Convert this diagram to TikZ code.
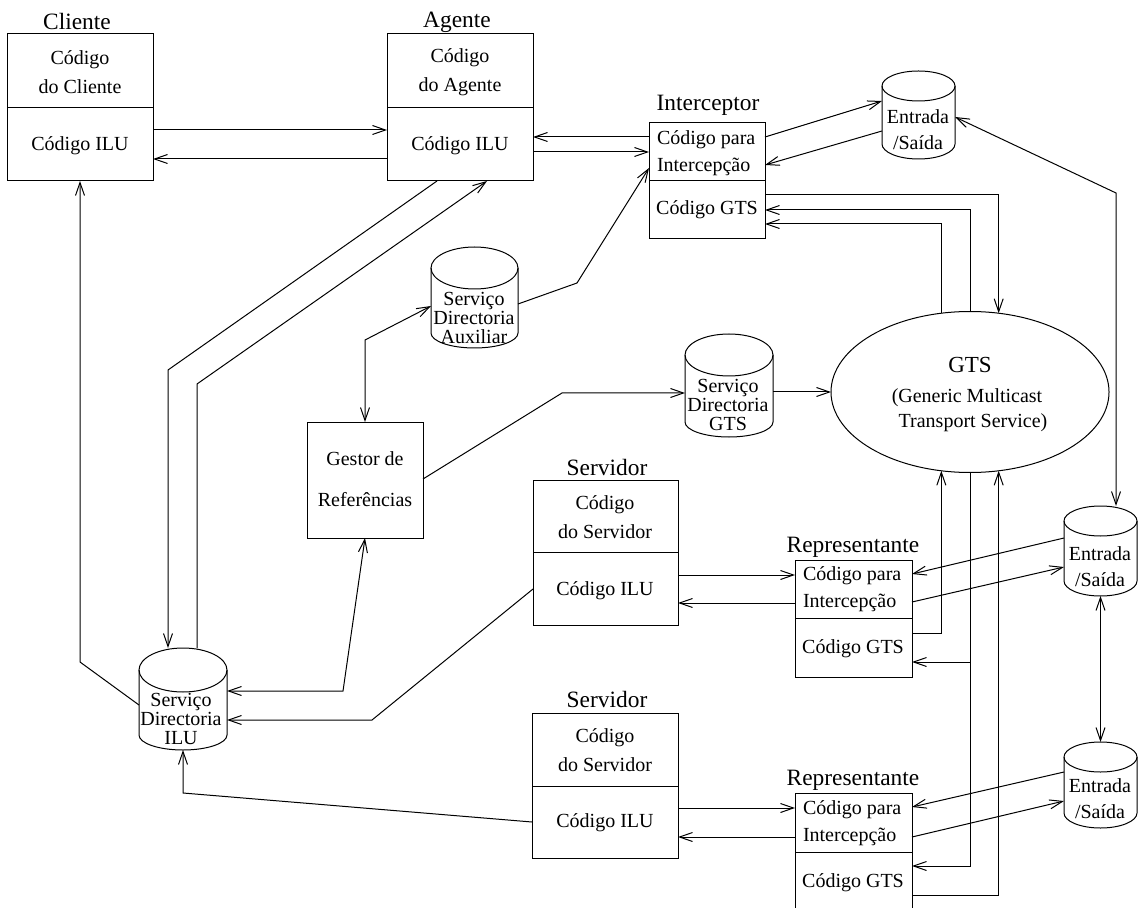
\documentclass[tikz,border=0pt]{standalone}
\usepackage{fontspec}
\setmainfont{Liberation Serif}
\usetikzlibrary{arrows.meta,fit,shapes.geometric}

% database cylinder: name, left x, right x, top y, top radius, bottom y
\newcommand{\dbcyl}[6]{%
  \node[fit={(#2,#4)(#3,#6)}, inner sep=0pt] (#1) {};
  \draw ({(#2+#3)/2},{#4+#5}) ellipse [x radius={(#3-#2)/2}, y radius=#5];
  \draw (#2,{#4+#5}) -- (#2,{#6-15})
        arc [start angle=180, end angle=0, x radius={(#3-#2)/2}, y radius=15]
        -- (#3,{#4+#5});
}

\begin{document}
\begin{tikzpicture}[x=0.5pt, y=-0.5pt, line width=0.5pt,
  every node/.style={inner sep=0pt, outer sep=0pt},
  boxfr/.style={draw, inner sep=0pt},
  bodytxt/.style={font=\fontsize{10}{14.5}\selectfont, align=center},
  sidetxt/.style={font=\fontsize{10}{13.5}\selectfont, align=left, anchor=west},
  cyltxt/.style={font=\fontsize{10}{9.5}\selectfont, align=center},
  headtxt/.style={font=\fontsize{11.7}{14}\selectfont},
  arr/.style={-{Straight Barb[length=6.5pt,width=4.5pt]}},
  arrtwo/.style={{Straight Barb[length=6.5pt,width=4.5pt]}-{Straight Barb[length=6.5pt,width=4.5pt]}},
]
\useasboundingbox (0,0) rectangle (1138,908);
\clip (0,0) rectangle (1138,908);

% ---------- class boxes ----------
\node[boxfr, fit={(7,34)(153,181)}] (cli) {};
\draw (cli.west |- 0,108) -- (cli.east |- 0,108);
\node[headtxt] (cliT) at (77,22) {Cliente};
\node[bodytxt] (cliA) at (80,72.5) {Código\\do Cliente};
\node[bodytxt] (cliB) at (80,146) {Código ILU};

\node[boxfr, fit={(387,34)(533,181)}] (age) {};
\draw (age.west |- 0,108) -- (age.east |- 0,108);
\node[headtxt] (ageT) at (457,22) {Agente};
\node[bodytxt] (ageA) at (460,72.5) {Código\\do Agente};
\node[bodytxt] (ageB) at (460,146) {Código ILU};

\node[boxfr, fit={(649,123)(765,239)}] (int) {};
\draw (int.west |- 0,181) -- (int.east |- 0,181);
\node[headtxt] (intT) at (708,105) {Interceptor};
\node[sidetxt] (intA) at (657,153.5) {Código para\\Intercepção};
\node[bodytxt] (intB) at (707,210) {Código GTS};

\node[boxfr, fit={(307,422)(423,538)}] (ges) {};
\node[font=\fontsize{10}{20.5}\selectfont, align=center] (gesA) at (365,479.5) {Gestor de\\Referências};

\node[boxfr, fit={(533,480)(678,625)}] (srv1) {};
\draw (srv1.west |- 0,552) -- (srv1.east |- 0,552);
\node[headtxt] (srv1T) at (607,467) {Servidor};
\node[bodytxt] (srv1A) at (605,517.5) {Código\\do Servidor};
\node[bodytxt] (srv1B) at (605,591) {Código ILU};

\node[boxfr, fit={(532,713)(678,858)}] (srv2) {};
\draw (srv2.west |- 0,786) -- (srv2.east |- 0,786);
\node[headtxt] (srv2T) at (607,699) {Servidor};
\node[bodytxt] (srv2A) at (605,750.5) {Código\\do Servidor};
\node[bodytxt] (srv2B) at (605,823) {Código ILU};

\node[boxfr, fit={(795,560)(912,677)}] (rep1) {};
\draw (rep1.west |- 0,618) -- (rep1.east |- 0,618);
\node[headtxt] (rep1T) at (853,547) {Representante};
\node[sidetxt] (rep1A) at (803,589) {Código para\\Intercepção};
\node[bodytxt] (rep1B) at (853,649) {Código GTS};

\node[boxfr, fit={(795,793)(912,930)}] (rep2) {};
\draw (rep2.west |- 0,852) -- (rep2.east |- 0,852);
\node[headtxt] (rep2T) at (853,780) {Representante};
\node[sidetxt] (rep2A) at (803,823) {Código para\\Intercepção};
\node[bodytxt] (rep2B) at (853,883) {Código GTS};

% ---------- transport service ----------
\node[draw, ellipse, minimum width=139pt, minimum height=80.5pt, inner sep=0pt] (gts) at (970,392) {};
\node[font=\fontsize{11.5}{14}\selectfont] (gtsT) at (970,365) {GTS};
\node[font=\fontsize{10}{12}\selectfont] (gtsA) at (967,398) {(Generic Multicast};
\node[font=\fontsize{10}{12}\selectfont] (gtsB) at (973,423) {Transport Service)};

% ---------- directories and I/O stores ----------
\dbcyl{ilu}{139}{227}{648}{22}{750}
\node[cyltxt] (iluT) at (181,719) {Serviço\\Directoria\\ILU};
\dbcyl{aux}{431}{518}{247}{21}{348}
\node[cyltxt] (auxT) at (474,318) {Serviço\\Directoria\\Auxiliar};
\dbcyl{gdir}{685}{773}{334}{21}{437}
\node[cyltxt] (gdirT) at (728,405) {Serviço\\Directoria\\GTS};
\dbcyl{e1}{882}{955}{71}{15}{159}
\node[cyltxt, font=\fontsize{10}{13}\selectfont] (e1T) at (918,130) {Entrada\\/Saída};
\dbcyl{e2}{1064}{1137}{506}{15}{596}
\node[cyltxt, font=\fontsize{10}{13}\selectfont] (e2T) at (1100,567) {Entrada\\/Saída};
\dbcyl{e3}{1064}{1137}{742}{15}{828}
\node[cyltxt, font=\fontsize{10}{13}\selectfont] (e3T) at (1100,799) {Entrada\\/Saída};

% ---------- ILU calls ----------
\draw[arr] (cli.east |- 0,130) -- (age.west |- 0,130);
\draw[arr] (age.west |- 0,159) -- (cli.east |- 0,159);
\draw[arr] (int.west |- 0,137) -- (age.east |- 0,137);
\draw[arr] (age.east |- 0,152) -- (int.west |- 0,152);
\draw[arr] (srv1.east |- 0,575) -- (rep1.west |- 0,575);
\draw[arr] (rep1.west |- 0,603) -- (srv1.east |- 0,603);
\draw[arr] (srv2.east |- 0,808) -- (rep2.west |- 0,808);
\draw[arr] (rep2.west |- 0,837) -- (srv2.east |- 0,837);

% ---------- interceptors and I/O ----------
\draw[arr] (int.east |- 0,137) -- (e1.west |- 0,101);
\draw[arr] (e1.west |- 0,131) -- (int.east |- 0,165);
\draw[arr] (e2.west |- 0,538) -- (rep1.east |- 0,574);
\draw[arr] (rep1.east |- 0,602) -- (e2.west |- 0,567);
\draw[arr] (e3.west |- 0,772) -- (rep2.east |- 0,807);
\draw[arr] (rep2.east |- 0,837) -- (e3.west |- 0,801);
\draw[arrtwo] (e1.east |- 0,117) -- (1116,193) -- (e2.north -| 1116,0);
\draw[arrtwo] (e2.south) -- (e3.north);

% ---------- GTS links ----------
\draw[arr] (int.east |- 0,195) -| (gts.70);
\draw[arr] (gts.north) |- (int.east |- 0,210);
\draw[arr] (gts.110) |- (int.east |- 0,224);
\draw[arr] (rep1.east |- 0,633) -| (gts.250);
\draw[arr] (gts.south) |- (rep1.east |- 0,662);
\draw[arr] (gts.south) |- (rep2.east |- 0,866);
\draw[arr] (rep2.east |- 0,895) -| (gts.290);
\draw[arr] (gdir.east |- gts.west) -- (gts.west);

% ---------- directory services ----------
\draw[arr] (aux.east |- 0,304) -- (577,283) -- (int.west |- 0,168);
\draw[arrtwo] (aux.west |- 0,306) -- (365,340) -- (ges.north);
\draw[arr] (ges.east |- 0,479) -- (562,393) -- (gdir.west |- 0,393);
\draw[arrtwo] (ges.south) -- (343,691) -- (ilu.east |- 0,691);
\draw[arr] (age.south -| 437,0) -- (168,370) -- (ilu.north -| 168,0);
\draw[arr] (ilu.north -| 197,0) -- (197,384) -- (age.south -| 487,0);
\draw[arr] (ilu.west |- 0,705) -- (80,662) -- (cli.south);
\draw[arr] (srv1.west |- 0,589) -- (372,720) -- (ilu.east |- 0,720);
\draw[arr] (srv2.west |- 0,822) -- (183,793) -- (ilu.south);
\end{tikzpicture}
\end{document}
